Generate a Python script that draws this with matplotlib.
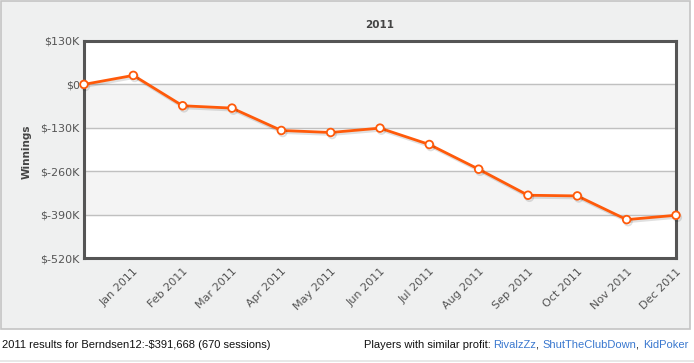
import matplotlib
matplotlib.use("Agg")
import matplotlib.pyplot as plt
from matplotlib.patches import Rectangle
from matplotlib.ticker import FixedLocator
import matplotlib.patheffects as pe

months = ['', 'Jan 2011', 'Feb 2011', 'Mar 2011', 'Apr 2011', 'May 2011', 'Jun 2011',
          'Jul 2011', 'Aug 2011', 'Sep 2011', 'Oct 2011', 'Nov 2011', 'Dec 2011']
winnings_k = [0, 27, -64, -71, -138, -144, -131, -180, -254, -332, -334, -405, -392]
y_ticks = [130, 0, -130, -260, -390, -520]
y_labels = ['$130K', '$0', '$-130K', '$-260K', '$-390K', '$-520K']

W, H = 694, 363
fig = plt.figure(figsize=(W / 100, H / 100), dpi=100, facecolor='white')

# grey chart panel
fig.patches.append(Rectangle((1 / W, (H - 329) / H), 689 / W, 328 / H,
                             transform=fig.transFigure, facecolor='#eff0f0',
                             edgecolor='#c4c4c4', linewidth=1.2, zorder=-5))
# bottom separator line
fig.patches.append(Rectangle((0, 1 / H), 1, 2 / H, transform=fig.transFigure,
                             facecolor='#e8e8e8', edgecolor='none', zorder=-5))

ax = fig.add_axes([84 / W, (H - 258) / H, 592 / W, 217 / H])
ax.set_zorder(2)
ax.set_facecolor('white')
x = list(range(len(months)))

# alternating bands
for lo, hi in [(-130, 0), (-390, -260)]:
    ax.axhspan(lo, hi, color='#f4f4f4', zorder=0)
for t in y_ticks[1:-1]:
    ax.axhline(t, color='#c0c0c0', linewidth=1, zorder=1)

ax.plot(x, winnings_k, color='#ff5a0a', linewidth=2, marker='o', markersize=5.5,
        markerfacecolor='white', markeredgecolor='#ff5a0a', markeredgewidth=1.3,
        zorder=3, clip_on=False,
        path_effects=[pe.SimpleLineShadow(offset=(1, -1.5), shadow_color='#000000', alpha=0.12),
                      pe.Normal()])

ax.set_xlim(0, 12)
ax.set_ylim(-520, 130)
ax.yaxis.set_major_locator(FixedLocator(y_ticks))
ax.set_yticklabels(y_labels)
ax.set_xticks(x)
ax.set_xticklabels(months, rotation=45, ha='right', va='top', rotation_mode='anchor')
ax.tick_params(axis='both', length=0, labelsize=8, labelcolor='#555555')
ax.tick_params(axis='y', pad=3)
ax.tick_params(axis='x', pad=6)

for s in ax.spines.values():
    s.set_color('#555555')
    s.set_linewidth(2.2)

ax.set_title('2011', fontsize=7.5, fontweight='bold', color='#444444', pad=9)
fig.text(27 / W, 1 - 152 / H, 'Winnings', rotation=90, ha='center', va='center',
         fontsize=7.5, fontweight='bold', color='#444444')

# footer
ft = dict(fontsize=8, family='Liberation Sans', va='center')
fig.text(2 / W, 1 - 345 / H, '2011 results for Berndsen12:-$391,668 (670 sessions)',
         color='#111111', ha='left', **ft)

parts = [('Players with similar profit: ', '#111111'), ('RivalzZz', '#3a78cf'),
         (', ', '#111111'), ('ShutTheClubDown', '#3a78cf'), (', ', '#111111'),
         ('KidPoker', '#3a78cf')]
fig.canvas.draw()
r = fig.canvas.get_renderer()
xpos = 688
for txt, col in reversed(parts):
    t = fig.text(xpos / W, 1 - 345 / H, txt, color=col, ha='right', **ft)
    bb = t.get_window_extent(renderer=r)
    xpos -= bb.width

fig.savefig('out.png', dpi=100, facecolor='white')
